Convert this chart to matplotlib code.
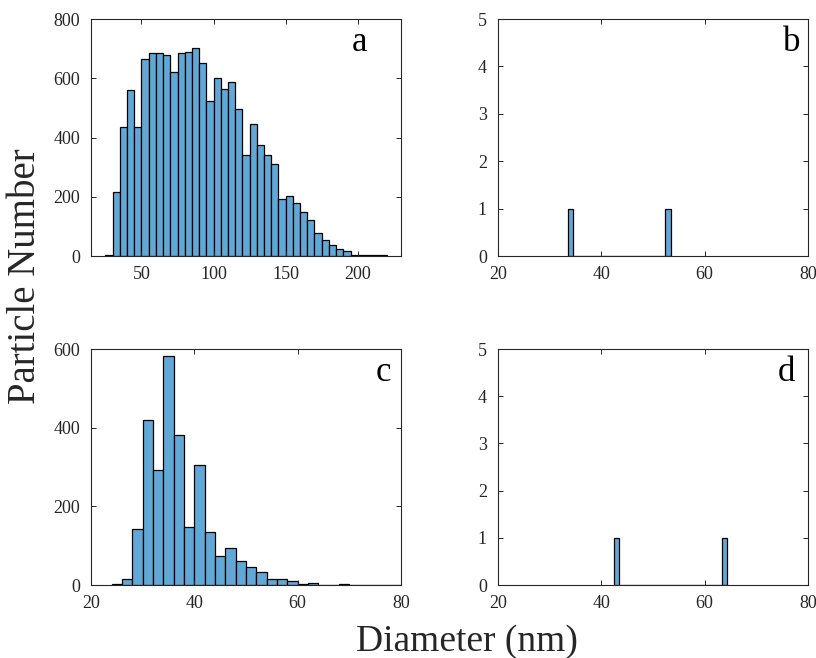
import numpy as np
import matplotlib
matplotlib.use('Agg')
import matplotlib.pyplot as plt

plt.rcParams['font.family'] = ['Liberation Serif', 'DejaVu Serif']

# panel a: bins of 5 nm starting at 25
a_start, a_width = 25, 5
a_counts = [5, 217, 434, 559, 434, 664, 686, 685, 679, 621, 686, 688, 702, 653,
            524, 601, 564, 589, 497, 341, 446, 374, 340, 310, 191, 201, 180, 149,
            121, 78, 53, 38, 23, 16, 5, 2, 4, 4, 2]

# panel b: bins of ~1 nm
b_start, b_width = 33.5, 0.995
b_counts = [1, 0, 0, 0, 0, 0, 0, 0, 0, 0, 0, 0, 0, 0, 0, 0, 0, 0, 0, 1]

# panel c: bins of 2 nm starting at 24
c_start, c_width = 24, 2
c_counts = [3, 16, 143, 419, 292, 582, 381, 147, 304, 135, 75, 95, 61, 47, 32,
            15, 14, 9, 3, 4, 1, 1, 2, 1, 1, 0.5, 0.5, 1]

# panel d
d_start, d_width = 42.4, 1.048
d_counts = [1, 0, 0, 0, 0, 0, 0, 0, 0, 0, 0, 0, 0, 0, 0, 0, 0, 0, 0, 0, 1]

bar_color = '#62a8d7'
axis_color = '#262626'

fig = plt.figure(figsize=(8.16, 6.58), dpi=100)

W, H = 816, 658
def make_ax(left, top, right, bottom):
    return fig.add_axes([left / W, 1 - bottom / H, (right - left) / W, (bottom - top) / H])

ax_a = make_ax(91, 19, 401, 256)
ax_b = make_ax(498, 19, 808, 256)
ax_c = make_ax(91, 349, 401, 585)
ax_d = make_ax(498, 349, 808, 585)

panels = [
    (ax_a, a_start, a_width, a_counts, (15, 230), [50, 100, 150, 200], (0, 800), [0, 200, 400, 600, 800], 'a', 0.865),
    (ax_b, b_start, b_width, b_counts, (20, 80), [20, 40, 60, 80], (0, 5), [0, 1, 2, 3, 4, 5], 'b', 0.947),
    (ax_c, c_start, c_width, c_counts, (20, 80), [20, 40, 60, 80], (0, 600), [0, 200, 400, 600], 'c', 0.943),
    (ax_d, d_start, d_width, d_counts, (20, 80), [20, 40, 60, 80], (0, 5), [0, 1, 2, 3, 4, 5], 'd', 0.929),
]

for ax, start, width, counts, xl, xt, yl, yt, letter, lx in panels:
    lefts = start + width * np.arange(len(counts))
    ax.bar(lefts, counts, width=width, align='edge', color=bar_color,
           edgecolor='black', linewidth=0.9)
    ax.set_xlim(*xl)
    ax.set_ylim(*yl)
    ax.set_xticks(xt)
    ax.set_yticks(yt)
    ax.tick_params(direction='in', length=3.5, width=0.7, top=True, right=True,
                   labelsize=13, colors=axis_color)
    ax.tick_params(axis='x', pad=7)
    ax.tick_params(axis='y', pad=8)
    for sp in ax.spines.values():
        sp.set_color(axis_color)
        sp.set_linewidth(0.8)
    ax.text(lx, 0.865, letter, transform=ax.transAxes, fontsize=25,
            ha='center', va='baseline', color='black')

fig.text(26 / W, 1 - 276 / H, 'Particle Number', rotation=90, fontsize=28,
         ha='center', va='center', color='#262626')
fig.text(467 / W, 1 - 651 / H, 'Diameter (nm)', fontsize=27,
         ha='center', va='baseline', color='#262626')

fig.savefig('out.png', dpi=100)
